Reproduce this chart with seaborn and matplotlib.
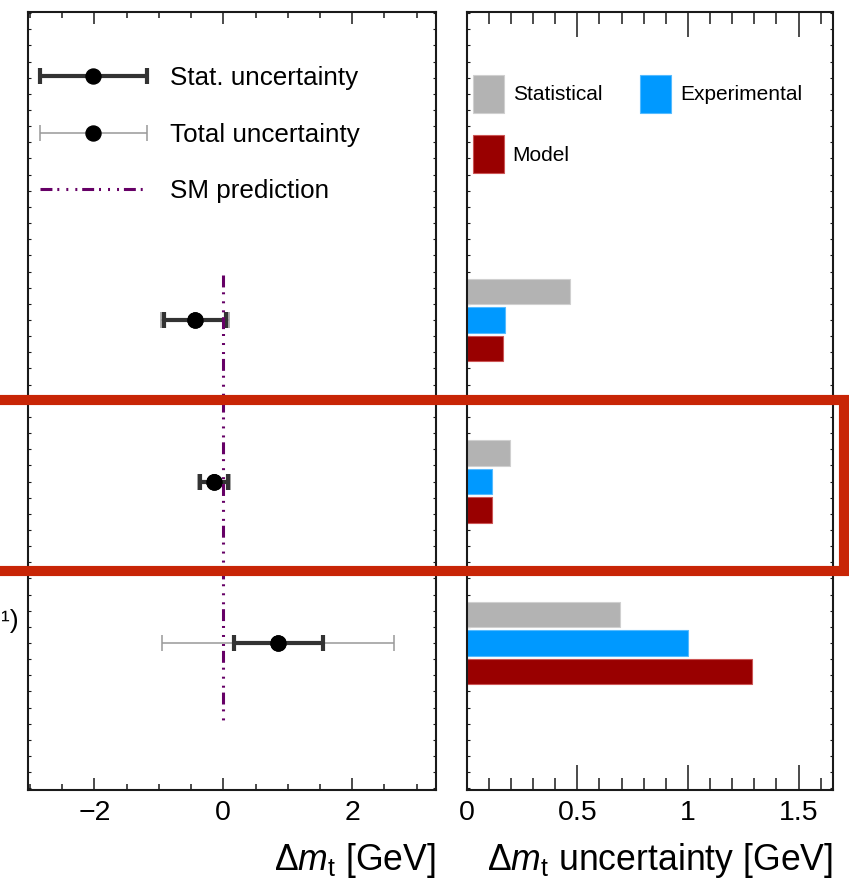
import numpy as np
import pandas as pd
import matplotlib
matplotlib.use("Agg")
import matplotlib.pyplot as plt
import seaborn as sns
from matplotlib.patches import Patch, Rectangle
from matplotlib.lines import Line2D
from matplotlib.legend_handler import HandlerErrorbar
from matplotlib.ticker import MultipleLocator, NullLocator

# ---------------- data ----------------
rows = ["Measurement 1", "Measurement 2", "Measurement 3"]
values = [-0.44, -0.14, 0.85]          # Delta m_t [GeV]
stat_unc = [0.48, 0.22, 0.69]
total_unc = [0.53, 0.25, 1.80]
sm_prediction = 0.0

sources = ["Statistical", "Experimental", "Model"]
bar_stat = [0.465, 0.195, 0.695]
bar_exp = [0.175, 0.115, 1.00]
bar_model = [0.165, 0.115, 1.29]

left_ticks = [-2, 0, 2]
left_tick_labels = ["\u22122", "0", "2"]
right_ticks = [0, 0.5, 1, 1.5]
right_tick_labels = ["0", "0.5", "1", "1.5"]

colors = {"Statistical": "#b3b3b3", "Experimental": "#0099ff", "Model": "#990000"}
edge_colors = {"Statistical": "#d0d0d0", "Experimental": "#55bbff", "Model": "#cc5555"}

# ---------------- style ----------------
sns.set_theme(style="ticks")
plt.rcParams["font.family"] = ["Liberation Sans", "DejaVu Sans"]
plt.rcParams["mathtext.fontset"] = "custom"
plt.rcParams["mathtext.rm"] = "Liberation Sans"
plt.rcParams["mathtext.it"] = "Liberation Sans:italic"
plt.rcParams["text.color"] = "black"

W, H = 849, 880
fig = plt.figure(figsize=(W / 100, H / 100), dpi=100)


def px_axes(x0, y0, x1, y1):
    return fig.add_axes([x0 / W, 1 - y1 / H, (x1 - x0) / W, (y1 - y0) / H])


axL = px_axes(28, 12, 436, 790)
axR = px_axes(466.7, 12, 832.7, 790)

pos = np.arange(len(rows))
YLIM = (2.91, -1.907)

# ---------------- left panel ----------------
ht = axL.errorbar(values, pos, xerr=total_unc, fmt="o", color="black", ms=10.8,
                  ecolor="#999999", elinewidth=1.1, capsize=5.75, capthick=1.1,
                  zorder=2)
hs = axL.errorbar(values, pos, xerr=stat_unc, fmt="o", color="black", ms=10.8,
                  ecolor="#333333", elinewidth=3.0, capsize=5.75, capthick=3.0,
                  zorder=3)
sm_style = (0, (3.9, 1.6, 0.65, 2.3, 0.65, 2.3, 0.65, 1.6))
hsm, = axL.plot([sm_prediction, sm_prediction], [pos[0] - 0.28, pos[-1] + 0.51],
                color="#660066", lw=2.2, ls=sm_style, zorder=4)
sns.scatterplot(x=values, y=pos, ax=axL, color="black", s=117,
                edgecolor="none", zorder=5, legend=False)

axL.legend([hs, ht, hsm], ["Stat. uncertainty", "Total uncertainty", "SM prediction"],
           loc="upper left", bbox_to_anchor=(0.029, 0.930), frameon=False,
           fontsize=18.7, handlelength=4.12, handletextpad=0.88,
           labelspacing=1.25, borderpad=0, borderaxespad=0,
           handler_map={type(hs): HandlerErrorbar(xerr_size=2.06)})

axL.set_xlim(-3.03, 3.30)
axL.set_xticks(left_ticks)
axL.set_xticklabels(left_tick_labels)
axL.xaxis.set_minor_locator(MultipleLocator(0.5))
axL.tick_params(axis="x", which="major", length=8.6, width=1.1)
axL.tick_params(axis="x", which="minor", length=4.3, width=1.1)

# ---------------- right panel ----------------
df = pd.concat([pd.DataFrame({"row": rows, "source": s, "unc": v})
                for s, v in zip(sources, [bar_stat, bar_exp, bar_model])],
               ignore_index=True)
sns.barplot(data=df, y="row", x="unc", hue="source", order=rows,
            hue_order=sources, palette=colors, orient="h", width=0.53,
            gap=0.12, saturation=1, legend=False, ax=axR, linewidth=0.8)
for cont, s in zip(axR.containers, sources):
    for p in cont:
        p.set_edgecolor(edge_colors[s])

handles = [Patch(facecolor=colors[s], edgecolor=edge_colors[s], lw=0.8) for s in sources]
order = [0, 2, 1]
axR.legend([handles[i] for i in order], [sources[i] for i in order], ncol=2,
           loc="upper left", bbox_to_anchor=(0.017, 0.919), frameon=False,
           fontsize=15, handlelength=1.49, handleheight=2.43,
           handletextpad=0.42, labelspacing=1.06, columnspacing=1.82,
           borderpad=0, borderaxespad=0)

axR.set_xlim(0, 1.654)
axR.set_xticks(right_ticks)
axR.set_xticklabels(right_tick_labels)
axR.xaxis.set_minor_locator(MultipleLocator(0.1))
axR.tick_params(axis="x", which="major", length=18, width=1.1)
axR.tick_params(axis="x", which="minor", length=8.6, width=1.1)

# ---------------- common axis styling ----------------
for ax in (axL, axR):
    ax.set_xlabel("")
    ax.set_ylabel("")
    ax.set_ylim(*YLIM)
    ax.yaxis.set_major_locator(NullLocator())
    ax.yaxis.set_minor_locator(MultipleLocator(0.1))
    ax.tick_params(axis="both", which="both", direction="in", top=True,
                   right=True, left=True, bottom=True, colors="#1a1a1a",
                   labelcolor="black")
    ax.tick_params(axis="x", labelsize=20.5, pad=7.5)
    ax.tick_params(axis="y", which="minor", length=2.2, width=0.8)
    for sp in ax.spines.values():
        sp.set_visible(True)
        sp.set_linewidth(1.5)
        sp.set_color("#1a1a1a")

# axis titles
fig.text(436 / W, 1 - 870 / H, r"$\Delta m_{\rm t}$ [GeV]", ha="right",
         va="baseline", fontsize=25.7)
fig.text(833 / W, 1 - 870 / H, r"$\Delta m_{\rm t}$ uncertainty [GeV]",
         ha="right", va="baseline", fontsize=25.7)

# fragment of a row label at the left edge
fig.text(1 / W, 1 - 621 / H, "\u00b9)", ha="left", va="center", fontsize=19)

# highlight box
fig.add_artist(Rectangle((-20 / W, 1 - 570.5 / H), (844.3 + 20) / W,
                         (570.5 - 400.3) / H, transform=fig.transFigure,
                         fill=False, ec="#c82506", lw=7.3, joinstyle="miter",
                         zorder=10))

fig.savefig("out.png", dpi=100)
